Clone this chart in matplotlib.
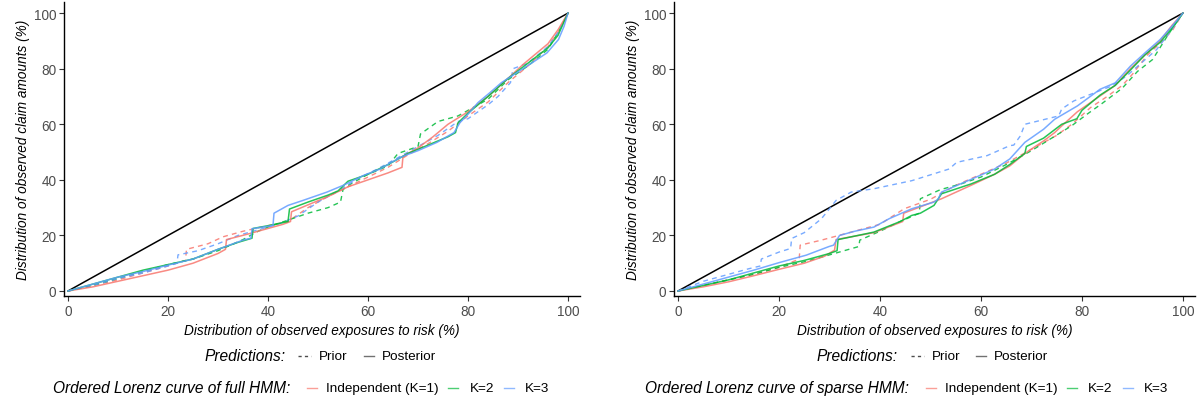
import matplotlib
matplotlib.use("Agg")
import matplotlib.pyplot as plt
from matplotlib.lines import Line2D
from matplotlib.offsetbox import TextArea, DrawingArea, HPacker, AnchoredOffsetbox

plt.rcParams['font.family'] = ['Liberation Sans', 'DejaVu Sans']

# ---------------- data ----------------
model_labels = ["Independent (K=1)", "K=2", "K=3"]
pred_labels = ["Prior", "Posterior"]
x_ticks = [0, 20, 40, 60, 80, 100]
y_ticks = [0, 20, 40, 60, 80, 100]
diag_x = [0, 100]
diag_y = [0, 100]

# Full HMM panel
full_ind_post_x = [0, 5, 10, 15, 20, 25, 30, 31.5, 31.7, 36, 40, 43, 44.5, 44.7, 48, 52, 56, 60, 64, 66.8, 67, 70, 73, 76, 80, 84, 88, 91, 94, 96, 98, 100]
full_ind_post_y = [0, 1.5, 3.5, 5.5, 7.5, 10, 13.5, 15, 18.5, 20.5, 22.5, 24, 25, 28.5, 31, 34, 37.5, 40, 42.5, 44.5, 48.5, 51.5, 55.5, 60, 64.5, 70, 76.5, 81.5, 86, 89, 94, 100]
full_ind_prior_x = [0, 5, 10, 15, 20, 23.5, 23.7, 28, 31, 35, 40, 44, 48, 52, 56, 60, 64, 68, 72, 76, 80, 84, 88, 92, 96, 98, 100]
full_ind_prior_y = [0, 2, 4, 6.5, 9, 11, 15, 17, 19.5, 21.5, 23.5, 25, 30, 34, 37.5, 41, 44.5, 49, 53, 57.5, 63, 68, 75, 81, 88, 93, 100]
full_k2_post_x = [0, 5, 10, 15, 20, 25, 30, 34, 36.8, 37, 40, 44, 44.3, 48, 52, 54, 56, 60, 64, 68, 72, 76, 77.5, 78, 80, 84, 88, 92, 96, 98, 100]
full_k2_post_y = [0, 2.5, 5, 7.5, 9.5, 11.5, 15, 17.5, 19, 22.5, 23.5, 25, 29.5, 32, 34.5, 36, 39.5, 42, 45.5, 49.5, 52.5, 55.5, 57, 60.5, 64, 70, 76.5, 82, 87.5, 92, 100]
full_k2_prior_x = [0, 5, 10, 15, 20, 25, 30, 35, 38, 40, 44, 48, 52, 54.5, 55, 56, 60, 64, 66, 70, 70.5, 74, 78, 80, 84, 88, 92, 96, 98, 100]
full_k2_prior_y = [0, 2, 4.5, 7, 9.5, 11.5, 14.5, 18.5, 21.5, 23, 25.5, 28, 30, 32, 36.5, 38, 42, 45, 49.5, 52, 56.5, 61, 63, 65, 69, 76, 81, 87, 93, 100]
full_k3_post_x = [0, 5, 10, 15, 20, 25, 30, 35, 36.6, 36.8, 41, 41.2, 44, 47, 51.8, 55, 59, 62.4, 64.7, 67, 70, 73.8, 77.2, 78.4, 80, 82, 84.4, 86.7, 89.7, 92.8, 95.8, 98.1, 99.2, 100]
full_k3_post_y = [0, 2.5, 5, 7, 9.3, 11.5, 15, 18.3, 19, 22.4, 23.6, 28, 30.8, 32.6, 35.6, 38, 41.5, 43.9, 46.3, 48.5, 50.5, 53.5, 57, 60.6, 63.6, 67.8, 71.4, 75, 78.5, 82.1, 85.7, 90.5, 95.2, 100]
full_k3_prior_x = [0, 5, 10, 15, 20, 21.8, 22, 26, 30, 34, 38, 42, 44, 46, 50, 54, 58, 62, 66, 70, 74, 78, 80, 82, 84, 86, 88.5, 89, 92, 96, 98, 100]
full_k3_prior_y = [0, 2, 4.5, 6.5, 9, 10, 13, 14.5, 17, 20, 22, 24, 25.5, 27, 32, 36, 40.5, 44, 48, 52, 56, 61, 62, 64.5, 67, 70, 75, 80, 82, 88, 93, 100]

# Sparse HMM panel
sparse_ind_post_x = [0, 5, 10, 15, 20, 25, 29, 31, 31.3, 38.8, 44.5, 44.7, 52.2, 58, 62.7, 65.7, 68.7, 72.4, 74.6, 76, 79.1, 83.6, 86.6, 89.6, 92.5, 95.5, 97.8, 100]
sparse_ind_post_y = [0, 1.5, 3.3, 5.5, 7.8, 10, 12.5, 14.7, 18.5, 21, 25, 28, 33.2, 38, 42, 45, 49.5, 54, 57, 59.4, 64.5, 70.2, 74, 80, 85, 90, 95.5, 100]
sparse_ind_prior_x = [0, 5, 10, 15, 20, 24, 24.2, 28.4, 34.3, 40, 44.8, 50, 55, 60, 65, 70, 75, 78, 81.7, 85, 88, 90, 93, 96, 98, 100]
sparse_ind_prior_y = [0, 2, 4, 6, 8.5, 11.5, 16.5, 18.3, 21.2, 24, 29.6, 33, 38, 42, 46, 51, 56, 60, 66, 70, 74, 78, 85, 90, 94, 100]
sparse_k2_post_x = [0, 5, 10, 15, 20, 25, 30, 31.5, 31.7, 38.8, 44, 46.3, 48, 50.7, 52.2, 58, 62.7, 65.7, 68.7, 69, 72.4, 76, 79, 80, 83.6, 86.6, 89.6, 92.5, 95.5, 97.8, 100]
sparse_k2_post_y = [0, 2, 4, 6.5, 9, 11, 13.5, 14.5, 18.5, 21.2, 25, 27.2, 28, 30.8, 35, 38.5, 42, 45.5, 49.5, 52, 55, 60, 62, 65, 70.5, 74, 79.5, 85, 89.5, 94.5, 100]
sparse_k2_prior_x = [0, 5, 10, 15, 20, 25, 30, 35.8, 36, 40, 44, 47.8, 48, 52, 56, 60, 65, 70, 74, 78, 81, 84, 88, 91, 94, 97, 100]
sparse_k2_prior_y = [0, 2, 4, 6, 8.5, 10.5, 13, 16, 18.3, 21.5, 25, 28, 33.2, 36.5, 38.5, 41, 45.5, 50.5, 55, 59.5, 63.6, 67.5, 73, 79, 83.3, 92, 100]
sparse_k3_post_x = [0, 5, 10, 15, 20, 25.4, 29.9, 30.8, 32, 35, 38.8, 41.8, 46.3, 50.7, 51.5, 52.2, 58.2, 62.7, 65.7, 68.7, 72.4, 74.6, 79.1, 83.6, 86.6, 89.6, 92.5, 95.5, 97.8, 100]
sparse_k3_post_y = [0, 2.5, 5, 7.5, 10.2, 12.9, 16, 16.5, 20, 21.5, 23, 26, 29.6, 32, 33, 35.6, 40.3, 43.9, 47.5, 53.5, 58.2, 61.8, 66.6, 72.6, 74.9, 80.9, 85.7, 90.5, 95.2, 100]
sparse_k3_prior_x = [0, 5, 10, 14, 16.3, 16.5, 20, 22.3, 22.5, 25, 28.4, 30, 31.3, 34.3, 38.8, 46.3, 53.7, 55.2, 61.2, 65.7, 66.5, 67.8, 68.7, 75.4, 76, 78.4, 85.8, 88.8, 91.8, 94.8, 97.8, 100]
sparse_k3_prior_y = [0, 3.5, 6, 8, 9, 11.5, 14, 15.3, 18.9, 21, 26, 29.6, 32.6, 35.6, 36.8, 39.7, 43.9, 46.3, 48.7, 52.3, 52.5, 55.8, 60, 63, 65.5, 68.4, 73.7, 77.3, 82.1, 86.9, 94, 100]

colors = ["#F8766D", "#00BA38", "#619CFF"]

panels = [
    {
        "legend_title": "Ordered Lorenz curve of full HMM:",
        "prior": [(full_ind_prior_x, full_ind_prior_y), (full_k2_prior_x, full_k2_prior_y), (full_k3_prior_x, full_k3_prior_y)],
        "post": [(full_ind_post_x, full_ind_post_y), (full_k2_post_x, full_k2_post_y), (full_k3_post_x, full_k3_post_y)],
        "row2_shift": -21,
    },
    {
        "legend_title": "Ordered Lorenz curve of sparse HMM:",
        "prior": [(sparse_ind_prior_x, sparse_ind_prior_y), (sparse_k2_prior_x, sparse_k2_prior_y), (sparse_k3_prior_x, sparse_k3_prior_y)],
        "post": [(sparse_ind_post_x, sparse_ind_post_y), (sparse_k2_post_x, sparse_k2_post_y), (sparse_k3_post_x, sparse_k3_post_y)],
        "row2_shift": -28,
    },
]

W, H = 1201, 406
fig = plt.figure(figsize=(W / 100, H / 100), dpi=100)

axes_px = [(64, 516), (674, 521)]  # left px, width px
tick_fs = 9.8
lab_fs = 9.8
leg_title_fs = 11.2
leg_fs = 9.7
grey = "#4D4D4D"
PT = 72 / 100  # points per pixel


def key(color, dashed=False, left=10, length=10, right=8, alpha=0.8):
    w = (left + length + right) * PT
    da = DrawingArea(w, 8, 0, 0)
    xs = [left * PT, (left + length) * PT]
    if dashed:
        ln = Line2D(xs, [4, 4], color=color, lw=1.0, dashes=(2.3, 2.3))
    else:
        ln = Line2D(xs, [4, 4], color=color, lw=1.0, alpha=alpha)
    da.add_artist(ln)
    return da


def txt(s, title=False):
    return TextArea(s, textprops=dict(fontsize=leg_title_fs if title else leg_fs,
                                      style="italic" if title else "normal", color="black"))


for p, (lpx, wpx) in zip(panels, axes_px):
    ax = fig.add_axes([lpx / W, 109 / H, wpx / W, 294 / H])
    ax.plot(diag_x, diag_y, color="black", lw=1.1)
    for (xs, ys), c in zip(p["prior"], colors):
        ax.plot(xs, ys, color=c, lw=1.0, ls=(0, (3.5, 3)), alpha=0.85)
    for (xs, ys), c in zip(p["post"], colors):
        ax.plot(xs, ys, color=c, lw=1.1, alpha=0.85)
    ax.set_xlim(-0.8, 102.4)
    ax.set_ylim(-1.8, 104)
    ax.set_xticks(x_ticks)
    ax.set_yticks(y_ticks)
    ax.tick_params(colors="#333333", labelcolor=grey, labelsize=tick_fs, length=3.5, width=0.8, pad=2)
    for s in ["top", "right"]:
        ax.spines[s].set_visible(False)
    for s in ["left", "bottom"]:
        ax.spines[s].set_color("black")
        ax.spines[s].set_linewidth(1.0)
    ax.set_xlabel("Distribution of observed exposures to risk (%)", fontsize=lab_fs, style="italic", labelpad=4)
    ax.set_ylabel("Distribution of observed claim amounts (%)", fontsize=lab_fs, style="italic", labelpad=3)

    cx = (lpx + wpx / 2) / W
    row1 = HPacker(children=[txt("Predictions:", True),
                             key(grey, dashed=True, left=13, length=13, right=8),
                             txt(pred_labels[0]),
                             key(grey, left=16, length=10, right=8),
                             txt(pred_labels[1])], align="center", pad=0, sep=0)
    fig.add_artist(AnchoredOffsetbox(loc="center", child=row1, pad=0, borderpad=0, frameon=False,
                                     bbox_to_anchor=(cx - 2 / W, 1 - 357 / H), bbox_transform=fig.transFigure))
    kids = [txt(p["legend_title"], True)]
    for i, (lab, c) in enumerate(zip(model_labels, colors)):
        kids += [key(c, left=17 if i == 0 else 10, length=10, right=9 if i == 0 else 11, alpha=0.7), txt(lab)]
    row2 = HPacker(children=kids, align="center", pad=0, sep=0)
    fig.add_artist(AnchoredOffsetbox(loc="center", child=row2, pad=0, borderpad=0, frameon=False,
                                     bbox_to_anchor=(cx + p["row2_shift"] / W, 1 - 389 / H),
                                     bbox_transform=fig.transFigure))

fig.savefig("out.png", dpi=100)
